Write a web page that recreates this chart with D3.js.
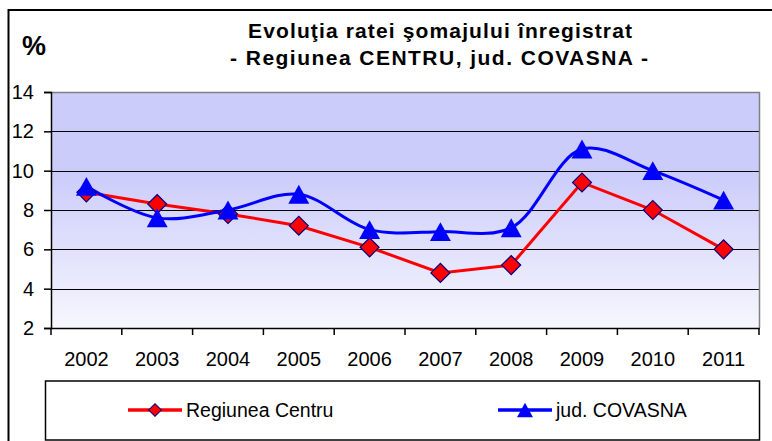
<!DOCTYPE html>
<html>
<head>
<meta charset="utf-8">
<script src="https://cdn.jsdelivr.net/npm/d3@7"></script>
<style>
  body { margin: 0; background: #fff; }
  text { font-family: "Liberation Sans", Arial, sans-serif; }
</style>
</head>
<body>
<div id="chart"></div>
<script>
var years = ["2002", "2003", "2004", "2005", "2006", "2007", "2008", "2009", "2010", "2011"];
var centru = [8.9, 8.3, 7.8, 7.2, 6.1, 4.8, 5.2, 9.4, 8.0, 6.0];
var covasna = [9.2, 7.6, 8.0, 8.8, 7.0, 6.9, 7.1, 11.1, 10.0, 8.5];
var yTicks = [2, 4, 6, 8, 10, 12, 14];
var seriesNames = ["Regiunea Centru", "jud. COVASNA"];

var svgWidth = 772;
var svgHeight = 441;

var plot = { left: 51, right: 759, top: 92, bottom: 328 };

var svg = d3.select("#chart")
  .append("svg")
  .attr("width", svgWidth)
  .attr("height", svgHeight);

// outer frame (runs off the right and bottom edge)
svg.append("rect")
  .attr("x", 8.5).attr("y", 10)
  .attr("width", 800).attr("height", 480)
  .attr("fill", "#fff")
  .attr("stroke", "#000")
  .attr("stroke-width", 2);

// scales
var x = d3.scaleBand()
  .domain(years)
  .range([plot.left, plot.right]);

var y = d3.scaleLinear()
  .domain([2, 14])
  .range([plot.bottom, plot.top]);

// plot background gradient
var grad = svg.append("defs").append("linearGradient")
  .attr("id", "bg")
  .attr("x1", 0).attr("y1", 0).attr("x2", 0).attr("y2", 1);
grad.append("stop").attr("offset", "0").attr("stop-color", "#ccccfb");
grad.append("stop").attr("offset", "0.35").attr("stop-color", "#ccccfb");
grad.append("stop").attr("offset", "1").attr("stop-color", "#f7f7fe");

svg.append("rect")
  .attr("x", plot.left).attr("y", plot.top)
  .attr("width", plot.right - plot.left)
  .attr("height", plot.bottom - plot.top)
  .attr("fill", "url(#bg)");

// gridlines
svg.append("g")
  .selectAll("line")
  .data(yTicks.filter(d => d > 2 && d < 14))
  .enter()
  .append("line")
  .attr("x1", plot.left).attr("x2", plot.right)
  .attr("y1", d => Math.round(y(d)) + 0.5)
  .attr("y2", d => Math.round(y(d)) + 0.5)
  .attr("stroke", "#000")
  .attr("stroke-width", 1.2);

// plot border top / right (gray)
svg.append("path")
  .attr("d", `M${plot.left},${plot.top + 0.5}H${plot.right + 0.5}V${plot.bottom}`)
  .attr("fill", "none")
  .attr("stroke", "#808080")
  .attr("stroke-width", 1.5);

// y axis
var leftAxis = d3.axisLeft(y)
  .tickValues(yTicks)
  .tickSize(7)
  .tickPadding(10)
  .tickFormat(d3.format("d"));

var yAxis = svg.append("g")
  .attr("transform", `translate(${plot.left}, 0)`)
  .call(leftAxis);
yAxis.select(".domain").attr("stroke", "#000").attr("stroke-width", 1.5);
yAxis.selectAll(".tick line").attr("stroke", "#000").attr("stroke-width", 1.5);
yAxis.selectAll("text")
  .attr("font-size", 20)
  .attr("font-family", "Liberation Sans, Arial, sans-serif")
  .attr("fill", "#000");

// x axis: line, ticks at category boundaries, labels at centers
var bottomAxis = d3.axisBottom(x).tickSize(0).tickPadding(0);
var xAxis = svg.append("g")
  .attr("transform", `translate(0, ${plot.bottom})`)
  .call(bottomAxis);
xAxis.select(".domain").attr("stroke", "#000").attr("stroke-width", 1.5);
xAxis.selectAll("text")
  .attr("y", 38)
  .attr("dy", null)
  .attr("font-size", 20)
  .attr("font-family", "Liberation Sans, Arial, sans-serif")
  .attr("fill", "#000");

var boundaries = years.map(d => x(d)).concat([x(years[years.length - 1]) + x.bandwidth()]);
svg.append("g")
  .selectAll("line")
  .data(boundaries)
  .enter()
  .append("line")
  .attr("x1", d => d).attr("x2", d => d)
  .attr("y1", plot.bottom).attr("y2", plot.bottom + 7)
  .attr("stroke", "#000")
  .attr("stroke-width", 1.5);

// marker shapes
var diamondSize = 180;
var triangleBox = {
  draw: function(context, size) {
    var w = Math.sqrt(size * 4 / Math.sqrt(3));
    var h = w * 0.9;
    context.moveTo(0, -h / 2);
    context.lineTo(w / 2, h / 2);
    context.lineTo(-w / 2, h / 2);
    context.closePath();
  }
};
var triangleSize = 190;

var cx = (d, i) => x(years[i]) + x.bandwidth() / 2;

// series: Regiunea Centru (straight)
var redLine = d3.line()
  .x(cx)
  .y(d => y(d));

// series: jud. COVASNA (smoothed)
var blueLine = d3.line()
  .x(cx)
  .y(d => y(d))
  .curve(d3.curveCatmullRom.alpha(0.5));

svg.append("path")
  .datum(centru)
  .attr("d", redLine)
  .attr("fill", "none")
  .attr("stroke", "#ff0000")
  .attr("stroke-width", 3);

svg.append("path")
  .datum(covasna)
  .attr("d", blueLine)
  .attr("fill", "none")
  .attr("stroke", "#0000ff")
  .attr("stroke-width", 3);

svg.append("g")
  .selectAll("path")
  .data(centru)
  .enter()
  .append("path")
  .attr("d", d3.symbol().type(d3.symbolSquare).size(diamondSize))
  .attr("transform", (d, i) => `translate(${cx(d, i)}, ${y(d)}) rotate(45)`)
  .attr("fill", "#ff0000")
  .attr("stroke", "#000080")
  .attr("stroke-width", 1.2);

svg.append("g")
  .selectAll("path")
  .data(covasna)
  .enter()
  .append("path")
  .attr("d", d3.symbol().type(triangleBox).size(triangleSize))
  .attr("transform", (d, i) => `translate(${cx(d, i)}, ${y(d)})`)
  .attr("fill", "#0000ff");

// titles
svg.append("text")
  .attr("x", 22).attr("y", 55)
  .attr("font-size", 27)
  .attr("font-weight", "bold")
  .text("%");

svg.append("text")
  .attr("x", 440).attr("y", 38)
  .attr("text-anchor", "middle")
  .attr("font-size", 21)
  .attr("font-weight", "bold")
  .attr("textLength", 384)
  .attr("lengthAdjust", "spacing")
  .text("Evoluţia ratei şomajului înregistrat");

svg.append("text")
  .attr("x", 439).attr("y", 65)
  .attr("text-anchor", "middle")
  .attr("font-size", 21)
  .attr("font-weight", "bold")
  .attr("textLength", 418)
  .attr("lengthAdjust", "spacing")
  .text("- Regiunea CENTRU, jud. COVASNA -");

// legend
var legend = svg.append("g");
legend.append("rect")
  .attr("x", 45.5).attr("y", 381)
  .attr("width", 714).attr("height", 59)
  .attr("fill", "#fff")
  .attr("stroke", "#000")
  .attr("stroke-width", 1.5);

var legendItems = [
  { name: seriesNames[0], x1: 128, color: "#ff0000", shape: "diamond" },
  { name: seriesNames[1], x1: 498, color: "#0000ff", shape: "triangle" }
];

var item = legend.selectAll(".item")
  .data(legendItems)
  .enter()
  .append("g")
  .attr("class", "item")
  .attr("transform", d => `translate(${d.x1}, 410)`);

item.append("line")
  .attr("x1", 0).attr("x2", 54)
  .attr("y1", 0).attr("y2", 0)
  .attr("stroke", d => d.color)
  .attr("stroke-width", 3.5);

item.append("path")
  .attr("d", d => d.shape === "diamond"
    ? d3.symbol().type(d3.symbolSquare).size(80)()
    : d3.symbol().type(triangleBox).size(110)())
  .attr("transform", d => d.shape === "diamond" ? "translate(27,0) rotate(45)" : "translate(27,0)")
  .attr("fill", d => d.color)
  .attr("stroke", d => d.shape === "diamond" ? "#000080" : "none")
  .attr("stroke-width", 1);

item.append("text")
  .attr("x", 58).attr("y", 7)
  .attr("font-size", 19.5)
  .text(d => d.name);
</script>
</body>
</html>
